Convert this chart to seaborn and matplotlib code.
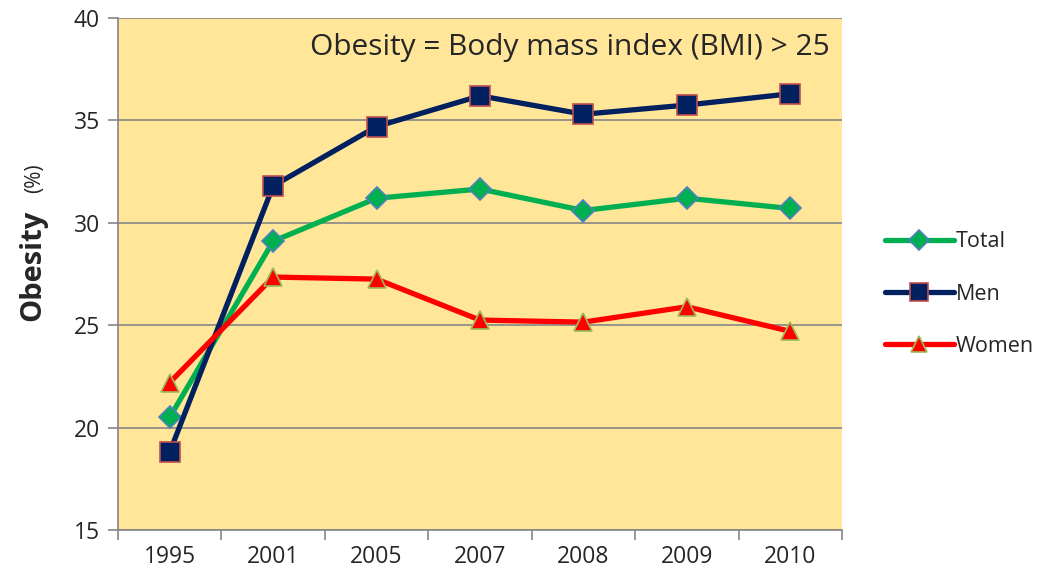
import pandas as pd
import numpy as np
import matplotlib
matplotlib.use('Agg')
import matplotlib.pyplot as plt
import seaborn as sns
from matplotlib.lines import Line2D

# Données
years = ['1995', '2001', '2005', '2007', '2008', '2009', '2010']
total = [20.5, 29.1, 31.2, 31.65, 30.6, 31.2, 30.7]
men = [18.8, 31.8, 34.7, 36.2, 35.3, 35.75, 36.3]
women = [22.2, 27.35, 27.25, 25.25, 25.15, 25.9, 24.7]

sns.set_style('white')
plt.rcParams['font.family'] = ['Open Sans', 'DejaVu Sans']

fig = plt.figure(figsize=(10.41, 5.78), dpi=100)
ax = fig.add_axes([118 / 1041, 1 - 530 / 578, 724 / 1041, 512 / 578])
ax.set_facecolor('#FFE699')

series = [
    ('Total', total, '#00B050', 'D', '#4F81BD', 11),
    ('Men', men, '#002060', 's', '#C0504D', 14),
    ('Women', women, '#FF0000', '^', '#9BBB59', 13),
]

df = pd.DataFrame({'year': years})
handles = []
for name, vals, col, mk, ec, ms in series:
    df[name] = vals
    sns.lineplot(data=df, x='year', y=name, ax=ax, sort=False, color=col, lw=3.8,
                 marker=mk, markersize=ms, markeredgecolor=ec, markeredgewidth=1.2,
                 zorder=3)
    handles.append(Line2D([], [], color=col, lw=3.8, marker=mk, markersize=ms - 1,
                          markeredgecolor=ec, markeredgewidth=1.2, label=name))

grey = '#868686'
ax.set_ylim(15, 40)
ax.set_xlim(-0.5, len(years) - 0.5)
ax.set_yticks(np.arange(15, 41, 5))
ax.yaxis.grid(True, color=grey, lw=1.2)
ax.set_axisbelow(True)
for s in ['top', 'right']:
    ax.spines[s].set_visible(False)
for s in ['left', 'bottom']:
    ax.spines[s].set_color(grey)
    ax.spines[s].set_linewidth(1.2)

# ticks aux frontières, étiquettes au centre
ax.set_xticks(np.arange(-0.5, len(years)), labels=[''] * (len(years) + 1))
ax.set_xticks(np.arange(len(years)), labels=years, minor=True)
ax.tick_params(axis='x', which='major', direction='out', length=7, color=grey, width=1.2, bottom=True)
ax.tick_params(axis='x', which='minor', length=0, labelsize=16.5, pad=11)
ax.tick_params(axis='y', direction='out', length=7, color=grey, width=1.2, labelsize=16.5, pad=6, left=True)
ax.set_xlabel('')
ax.set_ylabel('')

ax.text(0.983, 0.943, 'Obesity = Body mass index (BMI) > 25', transform=ax.transAxes,
        ha='right', va='center', fontsize=21.5)

fig.text(0.031, 1 - 265 / 578, 'Obesity', rotation=90, ha='center', va='center',
         fontsize=21, fontweight='bold')
fig.text(0.033, 1 - 178 / 578, '(%)', rotation=90, ha='center', va='center', fontsize=15)

fig.legend(handles=handles, loc='center left', bbox_to_anchor=(885 / 1041, 1 - 294 / 578),
           frameon=False, fontsize=15.5, handlelength=3.2, handletextpad=0.1, labelspacing=1.45,
           borderpad=0, borderaxespad=0)

fig.savefig('out.png', dpi=100, facecolor='white')
